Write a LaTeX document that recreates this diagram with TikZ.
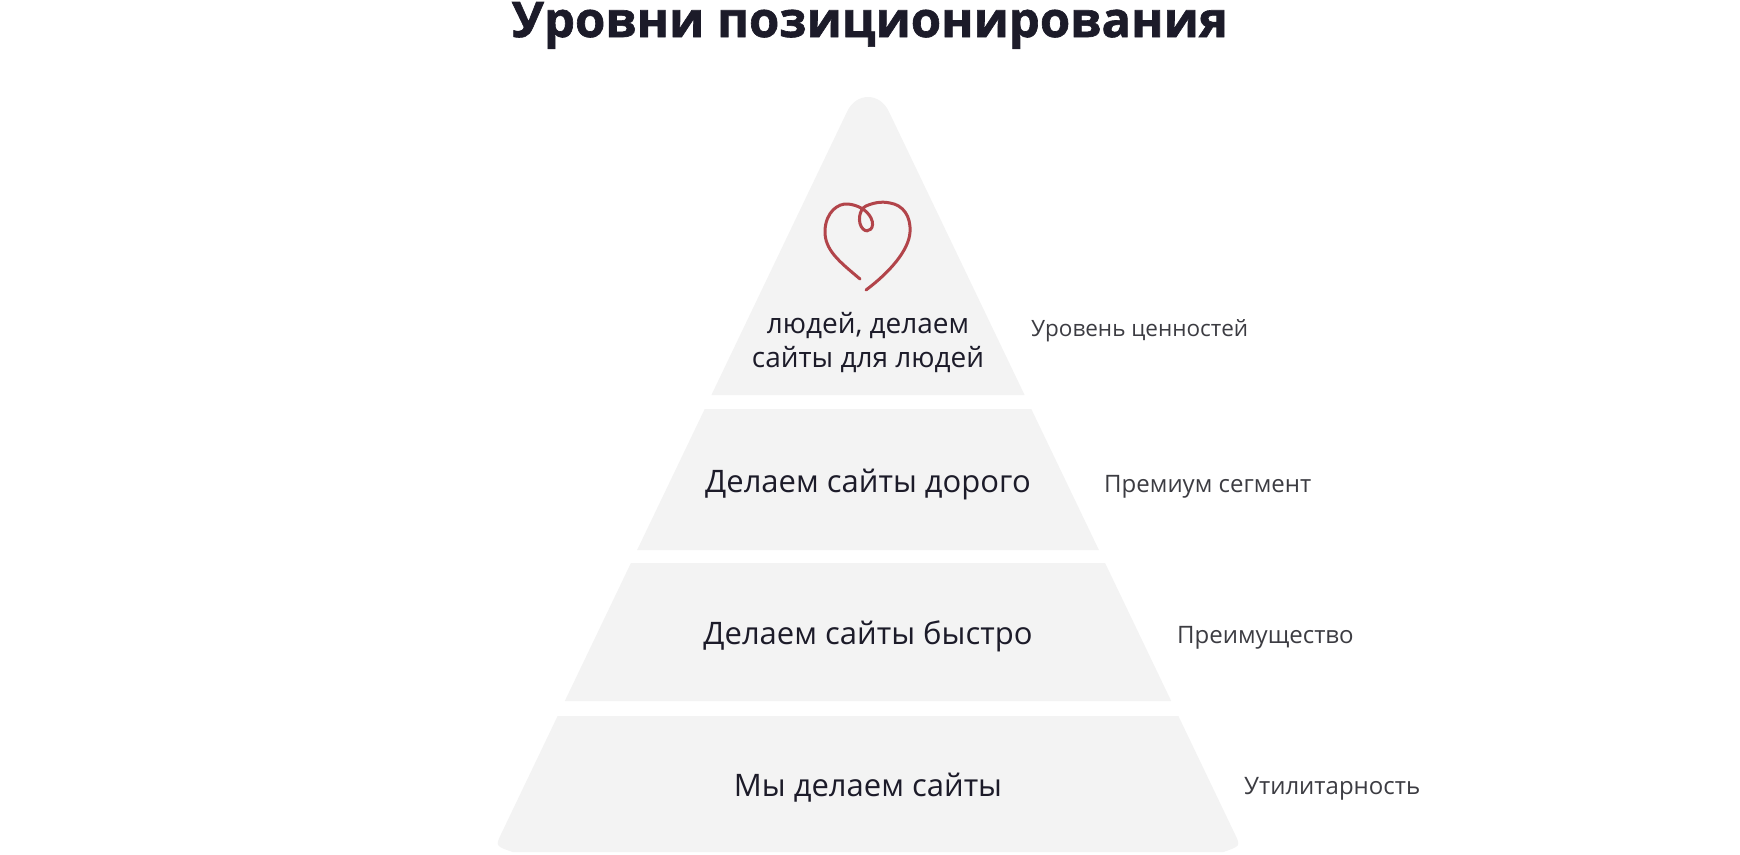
\documentclass[tikz,border=0pt]{standalone}
\usepackage{fontspec}
\setmainfont{Open Sans}[BoldFeatures={FakeBold=1.3}]
\usepackage{xcolor}
\definecolor{tiergray}{RGB}{243,243,243}
\definecolor{ink}{RGB}{28,27,41}
\definecolor{sideink}{RGB}{60,60,66}
\definecolor{heartred}{RGB}{178,68,74}

\begin{document}
\begin{tikzpicture}[x=1pt,y=-1pt,
    tier/.style={fill=tiergray},
    lvl/.style={font=\fontsize{31}{38}\selectfont,text=ink,anchor=base,inner sep=0pt},
    side/.style={font=\fontsize{24}{30}\selectfont,text=sideink,anchor=base west,inner sep=0pt}]
            \useasboundingbox (0,0) rectangle (1740,854);
            \node[font=\bfseries\fontsize{49}{60}\selectfont,text=ink,anchor=base,inner sep=0pt] (title) at (870,37) {Уровни позиционирования};
            \fill[tier] (711.4,395) -- (846.9,112) .. controls (856,92) and (880,92) .. (889.1,112) -- (1024.6,395) -- cycle;
            \fill[tier] (704.7,409) -- (1031.3,409) -- (1098.9,550) -- (637.1,550) -- cycle;
            \fill[tier] (630.9,563) -- (1105.1,563) -- (1171.2,701) -- (564.8,701) -- cycle;
            \fill[tier] (557.6,716) -- (1178.4,716) -- (1234.9,834) .. controls (1240.6,846) .. (1223.5,852) -- (512.5,852) .. controls (495.4,846) .. (501.1,834) -- cycle;
            \draw[heartred,line width=3pt,line cap=round] (860,279) .. controls (840,262) and (824,250) .. (825,230)
                .. controls (826,212) and (838,203) .. (848,204) .. controls (858,205) and (867,210) .. (871,218)
                .. controls (876,228) and (868,234) .. (863,229) .. controls (857,223) and (859,209) .. (866,206)
                .. controls (873,203) and (881,201) .. (890,203) .. controls (903,205) and (911,216) .. (910,232)
                .. controls (909,250) and (890,272) .. (866,290);
            \node[lvl,font=\fontsize{28}{34}\selectfont] (valuesa) at (868,333) {людей, делаем};
            \node[lvl,font=\fontsize{28}{34}\selectfont] (valuesb) at (868,367) {сайты для людей};
            \node[lvl] (premium) at (868,492) {Делаем сайты дорого};
            \node[lvl] (fast) at (868,644) {Делаем сайты быстро};
            \node[lvl] (basic) at (868,796) {Мы делаем сайты};
            \node[side,font=\fontsize{22.5}{30}\selectfont] (valuesside) at (1031,336) {Уровень ценностей};
            \node[side] (premiumside) at (1104,492) {Премиум сегмент};
            \node[side] (fastside) at (1177,643) {Преимущество};
            \node[side] (basicside) at (1244,794) {Утилитарность};
        \end{tikzpicture}
\end{document}
